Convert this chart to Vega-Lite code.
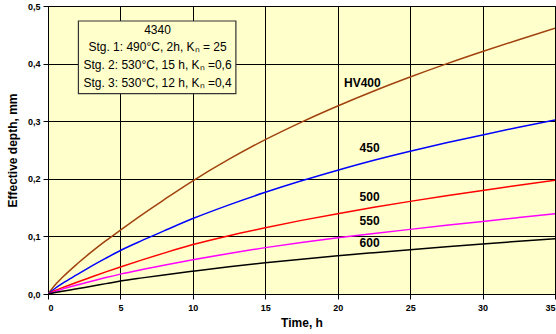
{
  "$schema": "https://vega.github.io/schema/vega-lite/v6.json",
  "width": 507,
  "height": 288,
  "autosize": "none",
  "padding": {"left": 48, "top": 6, "right": 1, "bottom": 40},
  "background": "white",
  "config": {
    "font": "Liberation Sans",
    "view": {"fill": "#FFFFCC", "stroke": "#000000", "strokeWidth": 1},
    "axis": {
      "domainColor": "#000000",
      "gridColor": "#000000",
      "gridOpacity": 1,
      "gridWidth": 1,
      "tickColor": "#000000",
      "tickSize": 5,
      "labelFont": "Liberation Sans",
      "labelFontWeight": "bold",
      "labelFontSize": 9,
      "labelColor": "#000000",
      "titleFont": "Liberation Sans",
      "titleFontWeight": "bold",
      "titleFontSize": 12,
      "titleColor": "#000000"
    }
  },
  "datasets": {
    "curves": [
      {"t": 0, "d": 0, "s": "HV400"}, {"t": 0.5, "d": 0.016, "s": "HV400"}, {"t": 1, "d": 0.029, "s": "HV400"}, {"t": 2, "d": 0.052, "s": "HV400"}, {"t": 3, "d": 0.073, "s": "HV400"}, {"t": 4, "d": 0.0925, "s": "HV400"}, {"t": 5, "d": 0.111, "s": "HV400"}, {"t": 6.5, "d": 0.138, "s": "HV400"}, {"t": 8, "d": 0.1635, "s": "HV400"}, {"t": 10, "d": 0.1965, "s": "HV400"}, {"t": 12.5, "d": 0.234, "s": "HV400"}, {"t": 15, "d": 0.268, "s": "HV400"}, {"t": 17.5, "d": 0.2985, "s": "HV400"}, {"t": 20, "d": 0.3265, "s": "HV400"}, {"t": 22.5, "d": 0.3525, "s": "HV400"}, {"t": 25, "d": 0.3767, "s": "HV400"}, {"t": 27.5, "d": 0.3995, "s": "HV400"}, {"t": 30, "d": 0.421, "s": "HV400"}, {"t": 32.5, "d": 0.4415, "s": "HV400"}, {"t": 35, "d": 0.4613, "s": "HV400"},
      {"t": 0, "d": 0, "s": "450"}, {"t": 0.5, "d": 0.01, "s": "450"}, {"t": 1, "d": 0.0185, "s": "450"}, {"t": 2, "d": 0.0335, "s": "450"}, {"t": 3, "d": 0.0483, "s": "450"}, {"t": 4, "d": 0.0622, "s": "450"}, {"t": 5, "d": 0.0755, "s": "450"}, {"t": 6.5, "d": 0.093, "s": "450"}, {"t": 8, "d": 0.1095, "s": "450"}, {"t": 10, "d": 0.131, "s": "450"}, {"t": 12.5, "d": 0.1548, "s": "450"}, {"t": 15, "d": 0.1765, "s": "450"}, {"t": 17.5, "d": 0.1965, "s": "450"}, {"t": 20, "d": 0.215, "s": "450"}, {"t": 22.5, "d": 0.2323, "s": "450"}, {"t": 25, "d": 0.248, "s": "450"}, {"t": 27.5, "d": 0.2625, "s": "450"}, {"t": 30, "d": 0.2762, "s": "450"}, {"t": 32.5, "d": 0.2895, "s": "450"}, {"t": 35, "d": 0.3022, "s": "450"},
      {"t": 0, "d": 0, "s": "500"}, {"t": 0.5, "d": 0.006, "s": "500"}, {"t": 1, "d": 0.011, "s": "500"}, {"t": 2, "d": 0.0205, "s": "500"}, {"t": 3, "d": 0.0295, "s": "500"}, {"t": 4, "d": 0.0384, "s": "500"}, {"t": 5, "d": 0.047, "s": "500"}, {"t": 6.5, "d": 0.0593, "s": "500"}, {"t": 8, "d": 0.071, "s": "500"}, {"t": 10, "d": 0.0858, "s": "500"}, {"t": 12.5, "d": 0.1013, "s": "500"}, {"t": 15, "d": 0.115, "s": "500"}, {"t": 17.5, "d": 0.1278, "s": "500"}, {"t": 20, "d": 0.1395, "s": "500"}, {"t": 22.5, "d": 0.1505, "s": "500"}, {"t": 25, "d": 0.1608, "s": "500"}, {"t": 27.5, "d": 0.1705, "s": "500"}, {"t": 30, "d": 0.1798, "s": "500"}, {"t": 32.5, "d": 0.1888, "s": "500"}, {"t": 35, "d": 0.1975, "s": "500"},
      {"t": 0, "d": 0, "s": "550"}, {"t": 0.5, "d": 0.0045, "s": "550"}, {"t": 1, "d": 0.0085, "s": "550"}, {"t": 2, "d": 0.0155, "s": "550"}, {"t": 3, "d": 0.022, "s": "550"}, {"t": 4, "d": 0.0285, "s": "550"}, {"t": 5, "d": 0.0345, "s": "550"}, {"t": 6.5, "d": 0.0425, "s": "550"}, {"t": 8, "d": 0.05, "s": "550"}, {"t": 10, "d": 0.0595, "s": "550"}, {"t": 12.5, "d": 0.0705, "s": "550"}, {"t": 15, "d": 0.0805, "s": "550"}, {"t": 17.5, "d": 0.0895, "s": "550"}, {"t": 20, "d": 0.0975, "s": "550"}, {"t": 22.5, "d": 0.105, "s": "550"}, {"t": 25, "d": 0.1122, "s": "550"}, {"t": 27.5, "d": 0.1192, "s": "550"}, {"t": 30, "d": 0.126, "s": "550"}, {"t": 32.5, "d": 0.1327, "s": "550"}, {"t": 35, "d": 0.1393, "s": "550"},
      {"t": 0, "d": 0, "s": "600"}, {"t": 0.5, "d": 0.0025, "s": "600"}, {"t": 1, "d": 0.0048, "s": "600"}, {"t": 2, "d": 0.009, "s": "600"}, {"t": 3, "d": 0.0136, "s": "600"}, {"t": 4, "d": 0.018, "s": "600"}, {"t": 5, "d": 0.0225, "s": "600"}, {"t": 6.5, "d": 0.028, "s": "600"}, {"t": 8, "d": 0.0331, "s": "600"}, {"t": 10, "d": 0.0395, "s": "600"}, {"t": 12.5, "d": 0.0472, "s": "600"}, {"t": 15, "d": 0.0543, "s": "600"}, {"t": 17.5, "d": 0.0605, "s": "600"}, {"t": 20, "d": 0.0663, "s": "600"}, {"t": 22.5, "d": 0.0717, "s": "600"}, {"t": 25, "d": 0.0769, "s": "600"}, {"t": 27.5, "d": 0.0819, "s": "600"}, {"t": 30, "d": 0.0868, "s": "600"}, {"t": 32.5, "d": 0.0915, "s": "600"}, {"t": 35, "d": 0.096, "s": "600"}
    ],
    "labels": [
      {"t": 21.7, "d": 0.366, "txt": "HV400"},
      {"t": 22.2, "d": 0.254, "txt": "450"},
      {"t": 22.2, "d": 0.168, "txt": "500"},
      {"t": 22.2, "d": 0.126, "txt": "550"},
      {"t": 22.2, "d": 0.089, "txt": "600"}
    ],
    "box": [{"x1": 2.1, "x2": 12.97, "y1": 0.348, "y2": 0.474}],
    "boxtext": [
      {"t": 7.56, "d": 0.459, "txt": "4340"},
      {"t": 7.56, "d": 0.428, "txt": "Stg. 1: 490°C, 2h, Kₙ = 25"},
      {"t": 7.56, "d": 0.397, "txt": "Stg. 2: 530°C, 15 h, Kₙ =0,6"},
      {"t": 7.56, "d": 0.366, "txt": "Stg. 3: 530°C, 12 h, Kₙ =0,4"}
    ]
  },
  "layer": [
    {
      "data": {"name": "curves"},
      "mark": {"type": "line", "interpolate": "monotone", "strokeWidth": 1.5, "clip": true},
      "encoding": {
        "x": {"field": "t", "type": "quantitative", "scale": {"domain": [0, 35], "nice": false}, "axis": {"values": [0, 5, 10, 15, 20, 25, 30, 35], "title": "Time, h", "titlePadding": 5, "labelPadding": 4, "grid": true}},
        "y": {"field": "d", "type": "quantitative", "scale": {"domain": [0, 0.5], "nice": false}, "axis": {"values": [0, 0.1, 0.2, 0.3, 0.4, 0.5], "labelExpr": "replace(format(datum.value, '.1f'), '.', ',')", "title": "Effective depth, mm", "titlePadding": 8, "labelPadding": 3, "grid": true}},
        "color": {"field": "s", "type": "nominal", "scale": {"domain": ["HV400", "450", "500", "550", "600"], "range": ["#A0420E", "#0000FF", "#FF0000", "#FF00FF", "#000000"]}, "legend": null},
        "detail": {"field": "s"}
      }
    },
    {
      "data": {"name": "labels"},
      "mark": {"type": "text", "fontWeight": "bold", "fontSize": 12, "color": "#000000", "align": "center", "baseline": "middle"},
      "encoding": {
        "x": {"field": "t", "type": "quantitative"},
        "y": {"field": "d", "type": "quantitative"},
        "text": {"field": "txt"}
      }
    },
    {
      "data": {"name": "box"},
      "mark": {"type": "rect", "fill": "#FFFFCC", "stroke": "#333333", "strokeWidth": 1.2},
      "encoding": {
        "x": {"field": "x1", "type": "quantitative"},
        "x2": {"field": "x2"},
        "y": {"field": "y1", "type": "quantitative"},
        "y2": {"field": "y2"}
      }
    },
    {
      "data": {"name": "boxtext"},
      "mark": {"type": "text", "fontSize": 12, "color": "#000000", "align": "center", "baseline": "middle"},
      "encoding": {
        "x": {"field": "t", "type": "quantitative"},
        "y": {"field": "d", "type": "quantitative"},
        "text": {"field": "txt"}
      }
    }
  ]
}
